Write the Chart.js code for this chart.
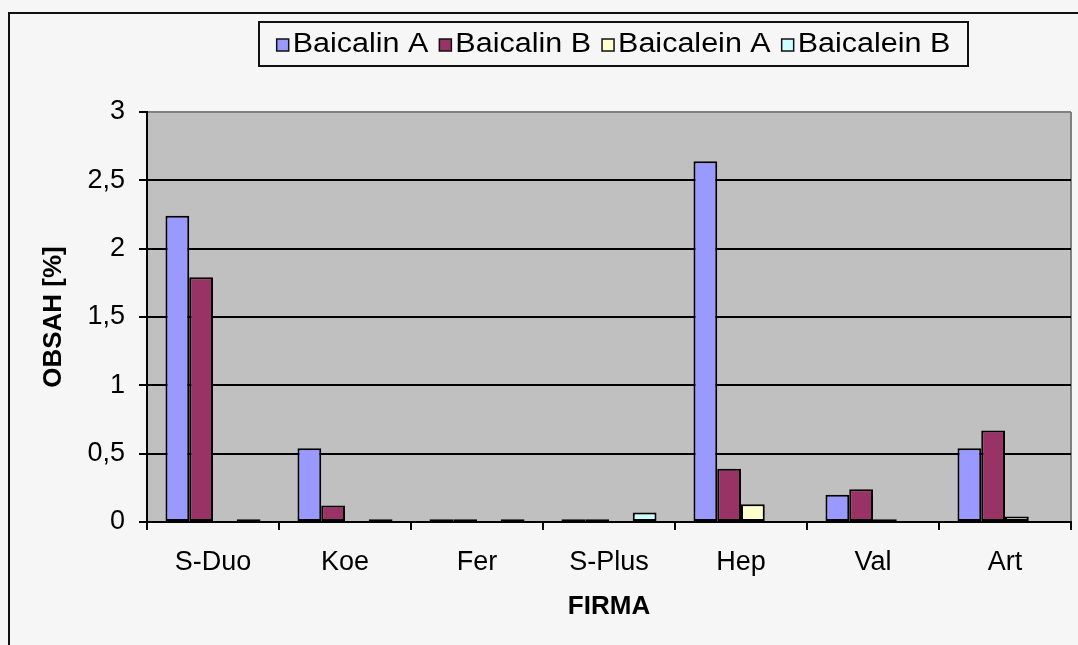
<!DOCTYPE html>
<html>
<head>
<meta charset="utf-8">
<script src="https://cdn.jsdelivr.net/npm/chart.js@4.4.1/dist/chart.umd.min.js"></script>
<style>
  html, body { margin: 0; padding: 0; background: #f6f6f6; }
  canvas { display: block; }
</style>
</head>
<body>
<canvas id="chart" width="1078" height="645"></canvas>
<script>
// kategorie (firmy) a obsahy v procentech
const firmy = ['S-Duo', 'Koe', 'Fer', 'S-Plus', 'Hep', 'Val', 'Art'];
const baicalinA = [2.24, 0.54, 0.02, 0.02, 2.64, 0.20, 0.54];
const baicalinB = [1.79, 0.12, 0.02, 0.02, 0.39, 0.24, 0.67];
const baicaleinA = [0, 0, 0, 0, 0.13, 0.02, 0.04];
const baicaleinB = [0.02, 0.02, 0.02, 0.07, 0, 0, 0];
const yTicks = [0, 0.5, 1, 1.5, 2, 2.5, 3];

const FONT = '"Liberation Sans", Arial, sans-serif';

// pozadí, rámeček grafu a šedá plocha grafu
const pozadi = {
  id: 'pozadi',
  beforeDraw(chart) {
    const { ctx, chartArea: a } = chart;
    ctx.save();
    ctx.fillStyle = '#f6f6f6';
    ctx.fillRect(0, 0, chart.width, chart.height);
    ctx.strokeStyle = '#111';
    ctx.lineWidth = 2;
    ctx.strokeRect(9, 13, chart.width + 20, chart.height + 20);
    ctx.fillStyle = '#c0c0c0';
    ctx.fillRect(a.left, a.top, a.right - a.left, a.bottom - a.top);
    ctx.strokeStyle = '#808080';
    ctx.beginPath();
    ctx.moveTo(a.right, a.top);
    ctx.lineTo(a.right, a.bottom);
    ctx.stroke();
    ctx.restore();
  }
};

// legenda v rámečku nahoře (text mírně roztažený do šířky)
const legenda = {
  id: 'legenda',
  afterDraw(chart) {
    const { ctx } = chart;
    const sets = chart.data.datasets;
    ctx.save();
    ctx.font = '27px ' + FONT;
    const sx = 1.13, box = 12, gap = 4, mezera = 11;
    const widths = sets.map(d => box + gap + ctx.measureText(d.label).width * sx);
    const total = widths.reduce((s, w) => s + w, 0) + mezera * (sets.length - 1);
    const bx = 259, by = 22, bw = 709, bh = 44;
    ctx.strokeStyle = '#111';
    ctx.lineWidth = 2;
    ctx.strokeRect(bx, by, bw, bh);
    let x = bx + (bw - total) / 2;
    const cy = by + bh / 2 + 1;
    ctx.textBaseline = 'middle';
    sets.forEach((d, i) => {
      ctx.fillStyle = d.backgroundColor;
      ctx.fillRect(x, cy - box / 2, box, box);
      ctx.lineWidth = 1.5;
      ctx.strokeStyle = '#111';
      ctx.strokeRect(x, cy - box / 2, box, box);
      ctx.fillStyle = '#000';
      ctx.save();
      ctx.translate(x + box + gap, cy);
      ctx.scale(sx, 1);
      ctx.fillText(d.label, 0, 0);
      ctx.restore();
      x += widths[i] + mezera;
    });
    ctx.restore();
  }
};

const serie = (label, data, barva) => ({
  label, data,
  backgroundColor: barva,
  borderColor: '#000',
  borderWidth: 2,
  borderSkipped: false,
  categoryPercentage: 0.72,
  barPercentage: 1
});

new Chart(document.getElementById('chart'), {
  type: 'bar',
  data: {
    labels: firmy,
    datasets: [
      serie('Baicalin A', baicalinA, '#9999ff'),
      serie('Baicalin B', baicalinB, '#993366'),
      serie('Baicalein A', baicaleinA, '#ffffcc'),
      serie('Baicalein B', baicaleinB, '#ccffff')
    ]
  },
  options: {
    responsive: false,
    animation: false,
    devicePixelRatio: 1,
    layout: { padding: { top: 112, right: 7, left: 0, bottom: 0 } },
    plugins: {
      legend: { display: false },
      tooltip: { enabled: false }
    },
    scales: {
      x: {
        grid: { drawOnChartArea: false, color: '#000', lineWidth: 2, tickLength: 8, offset: true },
        border: { color: '#000', width: 2 },
        ticks: { color: '#000', font: { family: FONT, size: 27 }, padding: 16, maxRotation: 0 },
        title: {
          display: true, text: 'FIRMA', color: '#000',
          font: { family: FONT, size: 26, weight: 'bold' },
          padding: { top: 0, bottom: 23 }
        },
        afterFit: s => { s.height = 123; }
      },
      y: {
        min: 0, max: 3,
        afterBuildTicks: s => { s.ticks = yTicks.map(v => ({ value: v })); },
        grid: {
          color: c => (c.tick && c.tick.value === 3 ? '#808080' : '#000'),
          tickColor: '#000',
          lineWidth: 2, tickLength: 8
        },
        border: { color: '#000', width: 2 },
        ticks: {
          color: '#000', font: { family: FONT, size: 27 }, padding: 14,
          callback: v => String(v).replace('.', ',')
        },
        title: {
          display: true, text: 'OBSAH [%]', color: '#000',
          font: { family: FONT, size: 26, weight: 'bold' },
          padding: { top: 38, bottom: 0 }
        },
        afterFit: s => { s.width = 147; }
      }
    }
  },
  plugins: [pozadi, legenda]
});
</script>
</body>
</html>
